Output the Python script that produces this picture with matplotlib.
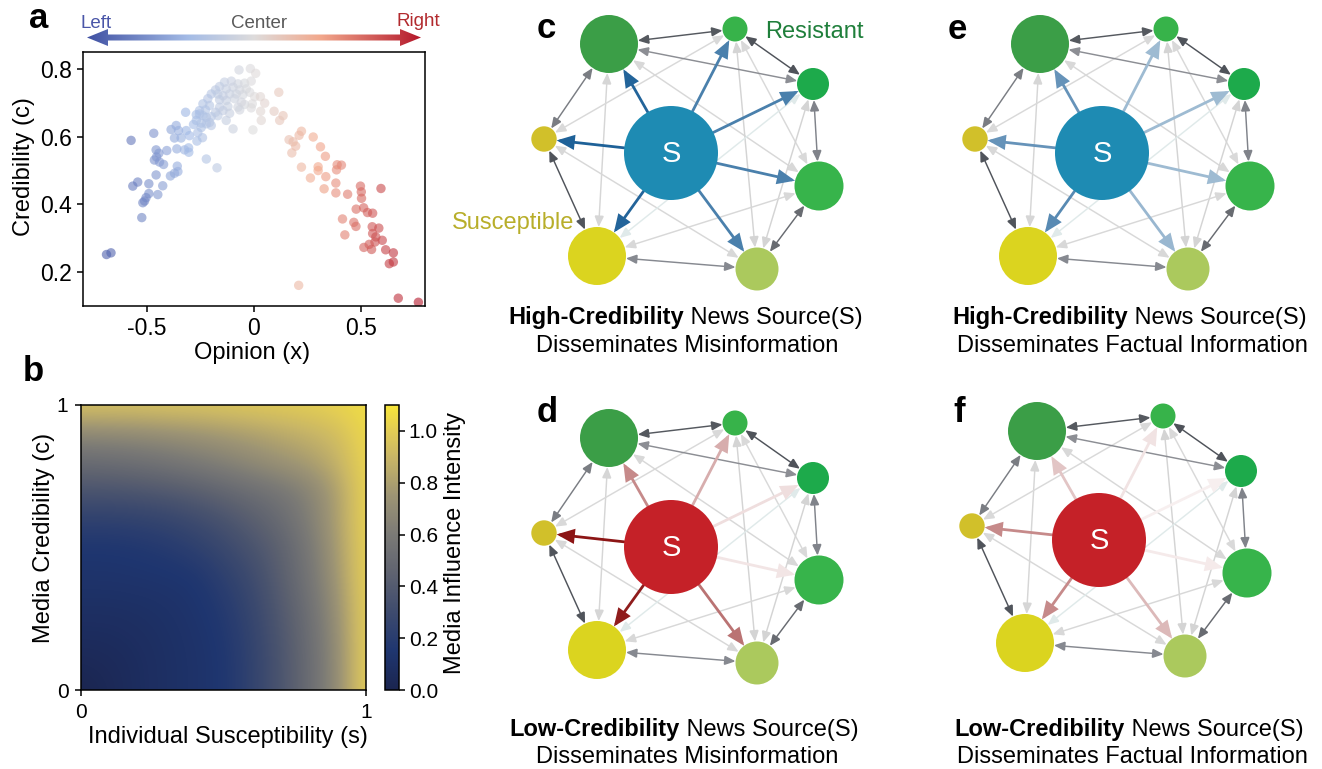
import numpy as np
import matplotlib.pyplot as plt
from matplotlib.patches import Circle, Polygon, FancyArrowPatch, ArrowStyle
from matplotlib.colors import LinearSegmentedColormap, to_rgb

plt.rcParams['font.family'] = ['Liberation Sans', 'DejaVu Sans']
plt.rcParams['axes.unicode_minus'] = False
plt.rcParams['axes.linewidth'] = 1.1
plt.rcParams['xtick.major.width'] = 1.1
plt.rcParams['ytick.major.width'] = 1.1

# ---------------- panel a: opinion vs credibility
opinion = [
    -0.690, -0.669,
    -0.575, -0.469, -0.388, -0.364, -0.353, -0.372, -0.341, -0.317, -0.302, -0.283, -0.263, -0.247,
    -0.241, -0.267, -0.320, -0.255, -0.223, -0.208,
    -0.458, -0.445, -0.408, -0.466, -0.442, -0.423, -0.456, -0.361, -0.325, -0.305, -0.306, -0.223,
    -0.173, -0.359, -0.356, -0.372, -0.391, -0.458, -0.427, -0.492, -0.544, -0.567, -0.450, -0.492,
    -0.505, -0.520, -0.512, -0.525,
    -0.070, -0.017, 0.008,
    -0.138, -0.106, -0.075, -0.044, -0.013,
    -0.161, -0.180, -0.130, -0.098, -0.067, -0.036, -0.020,
    -0.200, -0.169, -0.145, -0.114, -0.083, -0.052, 0.003, 0.030,
    -0.216, -0.161, -0.130, -0.091, -0.059, -0.008, 0.050,
    -0.239, -0.208, -0.161, -0.122, -0.075, -0.044,
    -0.255, -0.227, -0.180, -0.145, -0.067, -0.013, 0.031,
    -0.270, -0.239, -0.200, -0.169, -0.114,
    -0.130, 0.034,
    -0.270, -0.247, -0.223, -0.200,
    -0.098, -0.005,
    0.116, 0.094, 0.136, 0.120,
    0.222, 0.211, 0.164, 0.183, 0.195, 0.177, 0.277, 0.311, 0.334, 0.222, 0.300, 0.300, 0.264,
    0.336, 0.389, 0.409, 0.386, 0.383, 0.383, 0.328, 0.438, 0.498, 0.502, 0.503, 0.594, 0.478,
    0.513, 0.531, 0.555, 0.414, 0.467, 0.477, 0.425, 0.553, 0.584, 0.555, 0.570, 0.600, 0.566,
    0.539, 0.514, 0.550, 0.616, 0.652, 0.633, 0.652, 0.209, 0.675, 0.769,
]
credibility = [
    0.252, 0.257,
    0.589, 0.610, 0.621, 0.633, 0.618, 0.596, 0.596, 0.618, 0.603, 0.636, 0.612, 0.627,
    0.597, 0.587, 0.672, 0.667, 0.657, 0.642,
    0.561, 0.551, 0.559, 0.531, 0.525, 0.518, 0.540, 0.564, 0.561, 0.554, 0.567, 0.534,
    0.508, 0.513, 0.497, 0.492, 0.484, 0.487, 0.455, 0.461, 0.466, 0.454, 0.429, 0.432,
    0.420, 0.405, 0.410, 0.361,
    0.797, 0.801, 0.787,
    0.761, 0.764, 0.756, 0.758, 0.764,
    0.748, 0.738, 0.741, 0.746, 0.738, 0.741, 0.731,
    0.726, 0.726, 0.721, 0.726, 0.726, 0.724, 0.718, 0.718,
    0.712, 0.709, 0.707, 0.712, 0.702, 0.697, 0.699,
    0.697, 0.692, 0.687, 0.689, 0.687, 0.695,
    0.677, 0.679, 0.672, 0.677, 0.679, 0.685, 0.675,
    0.665, 0.662, 0.659, 0.662, 0.669,
    0.648, 0.648,
    0.648, 0.640, 0.638, 0.633,
    0.623, 0.620,
    0.731, 0.675, 0.662, 0.648,
    0.616, 0.604, 0.591, 0.585, 0.572, 0.552, 0.599, 0.570, 0.542, 0.510, 0.511, 0.500, 0.478,
    0.482, 0.517, 0.516, 0.502, 0.463, 0.434, 0.446, 0.430, 0.454, 0.437, 0.418, 0.447, 0.386,
    0.390, 0.376, 0.374, 0.357, 0.347, 0.335, 0.310, 0.334, 0.330, 0.314, 0.304, 0.294, 0.289,
    0.282, 0.273, 0.267, 0.266, 0.257, 0.225, 0.230, 0.161, 0.123, 0.111,
]

# ---------------- panel b: media influence intensity, rows c = 0..1, cols s = 0..1 (step 0.1)
influence = [
    [0.00, 0.04, 0.07, 0.10, 0.12, 0.15, 0.24, 0.36, 0.50, 0.70, 1.02],
    [0.04, 0.05, 0.07, 0.10, 0.12, 0.15, 0.24, 0.36, 0.50, 0.70, 1.02],
    [0.07, 0.07, 0.085, 0.105, 0.125, 0.16, 0.25, 0.37, 0.51, 0.71, 1.02],
    [0.10, 0.10, 0.105, 0.115, 0.135, 0.18, 0.27, 0.39, 0.53, 0.73, 1.02],
    [0.13, 0.13, 0.135, 0.14, 0.15, 0.22, 0.30, 0.42, 0.56, 0.76, 1.03],
    [0.15, 0.15, 0.16, 0.18, 0.22, 0.28, 0.35, 0.44, 0.58, 0.78, 1.03],
    [0.23, 0.23, 0.24, 0.26, 0.30, 0.35, 0.42, 0.50, 0.62, 0.80, 1.04],
    [0.36, 0.36, 0.37, 0.39, 0.42, 0.47, 0.52, 0.57, 0.65, 0.80, 1.04],
    [0.50, 0.51, 0.53, 0.56, 0.60, 0.64, 0.69, 0.74, 0.79, 0.88, 1.04],
    [0.68, 0.69, 0.70, 0.72, 0.74, 0.77, 0.80, 0.84, 0.88, 0.93, 1.05],
    [0.96, 0.96, 0.96, 0.97, 0.97, 0.98, 0.99, 1.00, 1.01, 1.03, 1.06],
]
cbar_ticks = [0.0, 0.2, 0.4, 0.6, 0.8, 1.0]

# ---------------- panels c-f: network
# node order: top-left big, top small, right-top, right, bottom, bottom-left, left
node_size = [29, 12.5, 16, 24.5, 21.5, 29, 12.7]
node_color = ['#3b9e47', '#37b34a', '#1daa4b', '#37b44b', '#abc95d', '#dbd41f', '#d1c02a']
peer_edges = [(0, 1), (1, 2), (2, 3), (3, 4), (4, 5), (5, 6), (6, 0), (0, 2),
              (0, 5), (1, 6), (0, 3), (1, 4), (1, 3), (2, 4), (4, 6), (3, 5), (2, 5)]
peer_color = ['#55595f', '#4f535a', '#80838a', '#686b71', '#868990', '#50545b', '#7a7d83', '#8c8e94',
              '#d6d6d6', '#d9d9d9', '#d8d8d8', '#d4d4d4', '#d9d9d9', '#d4d4d4', '#d8d8d8', '#d8d8d8', '#e0eaea']
# strength of the source's influence on each node, per panel
src_weight = {
    'c': [0.95, 0.78, 0.78, 0.78, 0.78, 0.95, 0.97],
    'd': [0.50, 0.35, 0.14, 0.11, 0.60, 0.97, 1.00],
    'e': [0.66, 0.42, 0.42, 0.42, 0.44, 0.72, 0.66],
    'f': [0.25, 0.12, 0.07, 0.09, 0.30, 0.50, 0.50],
}
captions = {
    'c': ('High-Credibility', 'Disseminates Misinformation'),
    'd': ('Low-Credibility', 'Disseminates Misinformation'),
    'e': ('High-Credibility', 'Disseminates Factual Information'),
    'f': ('Low-Credibility', 'Disseminates Factual Information'),
}

W, H = 1322, 769
fig = plt.figure(figsize=(W / 100, H / 100), dpi=100)


def px_axes(l, t, r, b):
    return fig.add_axes([l / W, 1 - b / H, (r - l) / W, (b - t) / H])


FS = 17

# left-right opinion colours
cmap_lr = LinearSegmentedColormap.from_list('lr', [
    (0.0, '#4051a3'), (0.3, '#a3bbe6'), (0.5, '#dedcdc'), (0.7, '#f2a88c'), (1.0, '#b4182b')])

# ---- a
ax = px_axes(83, 52, 425, 306)
ax.scatter(opinion, credibility, c=opinion, cmap=cmap_lr, vmin=-0.75, vmax=0.75,
           s=46, alpha=0.6, edgecolors='none')
ax.set_xlim(-0.8, 0.8)
ax.set_ylim(0.1, 0.85)
ax.set_xticks([-0.5, 0, 0.5])
ax.set_xticklabels(['-0.5', '0', '0.5'])
ax.set_yticks([0.2, 0.4, 0.6, 0.8])
ax.tick_params(labelsize=16.5, length=4, pad=4)
ax.set_xlabel('Opinion (x)', fontsize=FS)
ax.set_ylabel('Credibility (c)', fontsize=FS)
ax.xaxis.set_label_coords(0.494, -0.14)
ax.yaxis.set_label_coords(-0.14, 0.55)

# ---- b
cmap_b = LinearSegmentedColormap.from_list('infl', [
    (0.0, '#1b254f'), (0.15 / 1.1, '#1f3670'), (0.3 / 1.1, '#3e4b6e'), (0.45 / 1.1, '#5f6370'),
    (0.6 / 1.1, '#7b7a76'), (0.75 / 1.1, '#9d9474'), (0.9 / 1.1, '#c9b666'), (1.0 / 1.1, '#e2cc55'),
    (1.0, '#f8e63a')])
axb = px_axes(81, 405, 366, 690)
im = axb.imshow(np.array(influence), origin='lower', extent=[-0.05, 1.05, -0.05, 1.05],
                cmap=cmap_b, vmin=0, vmax=1.1, interpolation='bicubic', aspect='auto')
axb.set_xlim(0, 1)
axb.set_ylim(0, 1)
axb.set_xticks([0, 1])
axb.set_xticklabels(['0', '1'])
axb.set_yticks([0, 1])
axb.set_yticklabels(['0', '1'])
axb.tick_params(labelsize=15, length=4, pad=5)
axb.set_xlabel('Individual Susceptibility (s)', fontsize=FS)
axb.set_ylabel('Media Credibility (c)', fontsize=FS)
axb.xaxis.set_label_coords(0.515, -0.125)
axb.yaxis.set_label_coords(-0.09, 0.535)

cax = px_axes(385, 405, 399, 690)
cb = fig.colorbar(im, cax=cax, ticks=cbar_ticks)
cb.ax.set_yticklabels(['%.1f' % t for t in cbar_ticks])
cb.ax.tick_params(labelsize=15, length=4, pad=3)
cb.outline.set_linewidth(1.1)
cb.set_label('Media Influence Intensity', fontsize=FS)
cb.ax.yaxis.set_label_coords(4.25, 0.516)

# ---- overlay in pixel units for network panels and annotations
ov = fig.add_axes([0, 0, 1, 1])
ov.axis('off')

# gradient double arrow above panel a
verts = [(87, 37.5), (108, 29), (108, 34.5), (400, 34.5), (400, 29), (421, 37.5),
         (400, 46), (400, 40.5), (108, 40.5), (108, 46)]
poly = Polygon(verts, closed=True, facecolor='none', edgecolor='none', transform=ov.transData)
ov.add_patch(poly)
grad = ov.imshow(np.linspace(0, 1, 256).reshape(1, -1), cmap=cmap_lr, extent=(87, 421, 47, 28),
                 aspect='auto', interpolation='bilinear')
grad.set_clip_path(poly)
ov.text(81, 28, 'Left', color='#4a56a8', fontsize=13.5, va='baseline')
ov.text(231, 28, 'Center', color='#5a5a5a', fontsize=13.5, va='baseline')
ov.text(396, 26, 'Right', color='#b22a2e', fontsize=13.5, va='baseline')

node_offsets = [(-62, -109), (64, -124), (142, -69), (148, 33), (86, 116), (-74, 103), (-127, -14)]
src_r = 47


def link(p, q, rp, rq, color, lw, both, hl, hw, z):
    p, q = np.array(p, float), np.array(q, float)
    u = (q - p) / np.hypot(*(q - p))
    a, b = p + u * rp, q - u * rq
    style = ArrowStyle('<|-|>' if both else '-|>', head_length=hl, head_width=hw)
    ov.add_patch(FancyArrowPatch(a, b, arrowstyle=style, mutation_scale=1, color=color, lw=lw,
                                 shrinkA=0, shrinkB=0, zorder=z, joinstyle='miter'))


def network(key, cx, cy, src_col, base):
    pts = [(cx + dx, cy + dy) for dx, dy in node_offsets]
    for (i, j), col in zip(peer_edges, peer_color):
        z = 1 if col > '#c0' else 2
        link(pts[i], pts[j], node_size[i], node_size[j], col, 1.05, True, 6.5, 2.8, z)
    b = np.array(to_rgb(base))
    for k, w in enumerate(src_weight[key]):
        col = w * b + (1 - w) * np.ones(3)
        link((cx, cy), pts[k], src_r, node_size[k], col, 2.0, False, 9.5, 4.0, 3)
    for k, (x, y) in enumerate(pts):
        ov.add_patch(Circle((x, y), node_size[k], facecolor=node_color[k], edgecolor='none', zorder=4))
    ov.add_patch(Circle((cx, cy), src_r, facecolor=src_col, edgecolor='none', zorder=4))
    ov.text(cx, cy + 1, 'S', color='white', fontsize=21, ha='center', va='center', zorder=5)


network('c', 671, 153, '#1e8bb3', '#175c95')
network('d', 671, 547, '#c52128', '#8c1515')
network('e', 1102, 153, '#1e8bb3', '#175c95')
network('f', 1099, 540, '#c52128', '#8c1515')

ov.text(765, 38, 'Resistant', color='#1f7f3b', fontsize=FS, va='baseline')
ov.text(452, 229, 'Susceptible', color='#b8ae2a', fontsize=FS, va='baseline')

cap_pos = {'c': (684, 687.5, 324, 352), 'd': (680, 687.5, 736, 763),
           'e': (1128, 1132, 324, 352), 'f': (1125, 1132, 736, 763)}
for key, (xs, xc, y1, y2) in cap_pos.items():
    bold, line2 = captions[key]
    ov.text(xs, y1, bold, fontsize=FS, fontweight='bold', ha='right', va='baseline')
    ov.text(xs, y1, ' News Source(S)', fontsize=FS, ha='left', va='baseline')
    ov.text(xc, y2, line2, fontsize=FS, ha='center', va='baseline')

for lab, x, y in [('a', 29, 28), ('b', 23, 381), ('c', 537, 38), ('d', 537, 422),
                  ('e', 948, 39), ('f', 953, 422)]:
    ov.text(x, y, lab, fontsize=25, fontweight='bold', va='baseline')

ov.set_xlim(0, W)
ov.set_ylim(H, 0)

fig.savefig('out.png', dpi=100)
